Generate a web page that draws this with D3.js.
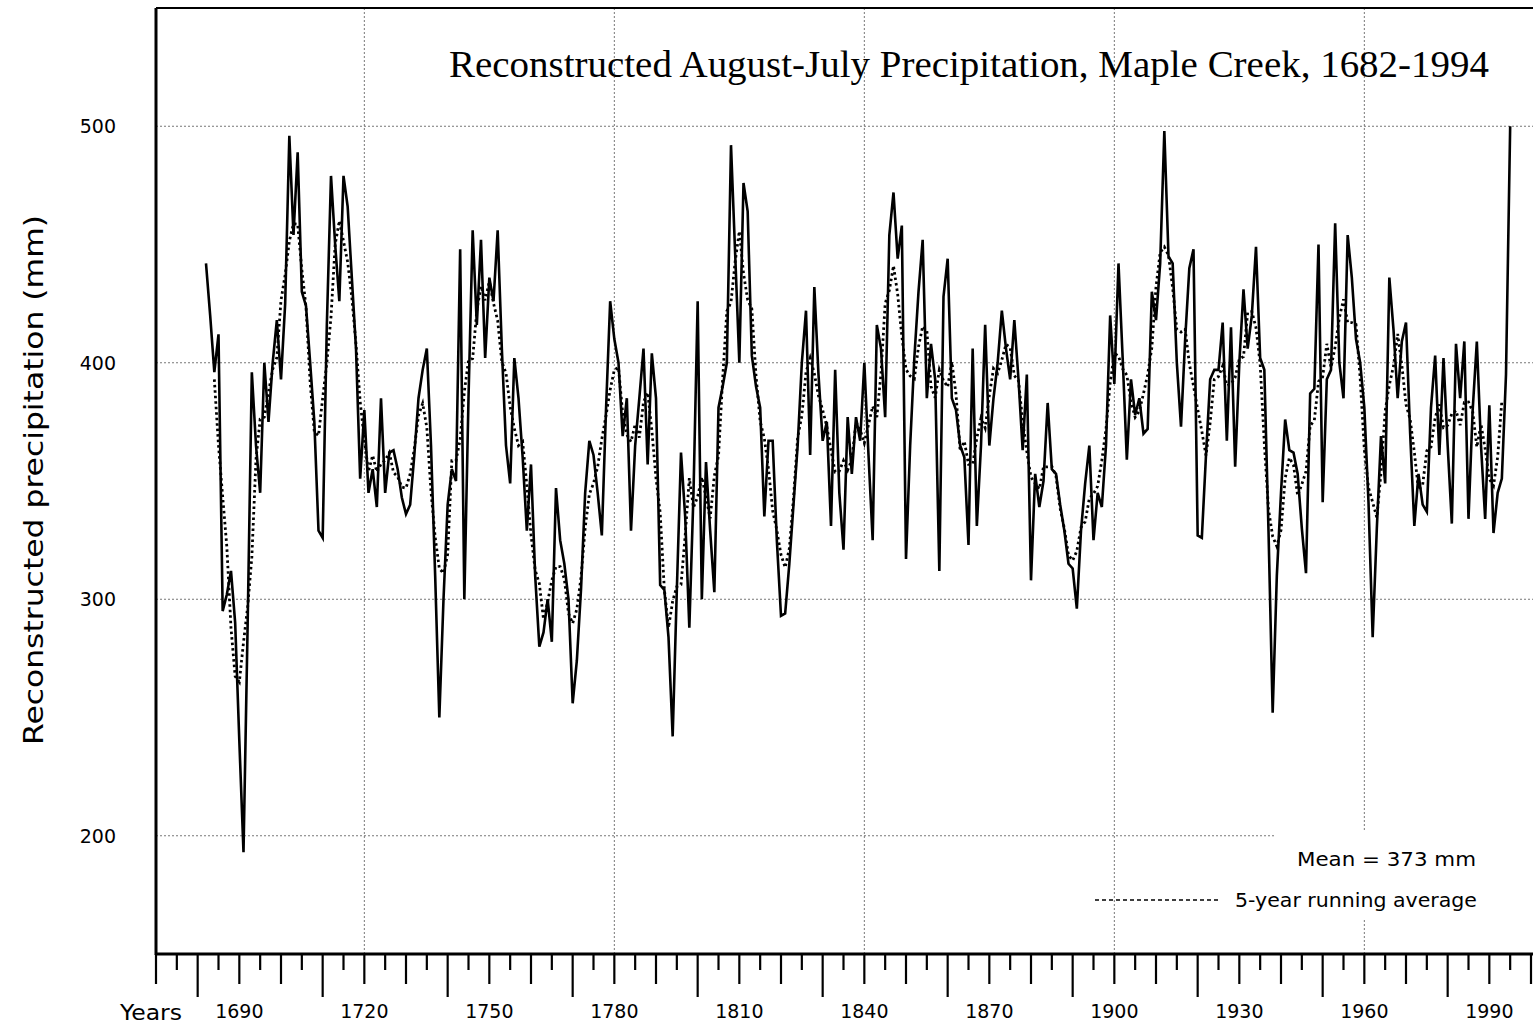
<!DOCTYPE html>
<html><head><meta charset="utf-8">
<script src="https://cdn.jsdelivr.net/npm/d3@7"></script>
<style>body{margin:0;background:#fff;} svg{display:block;}</style>
</head><body>
<svg id="c" width="1533" height="1024"></svg>
<script>
// ---- data ----
const firstYear = 1682;
const precipitation = [
 442,420,396,412,295,302,312,290,240,193, // 1682-1691
 290,396,365,345,400,375,400,418,393,425, // 1692-1701
 496,454,489,430,424,400,375,329,326,416, // 1702-1711
 479,450,426,479,466,436,406,351,380,345, // 1712-1721
 355,339,385,345,362,363,355,343,336,340, // 1722-1731
 361,385,397,406,365,310,250,300,340,355, // 1732-1741
 350,448,300,385,456,416,452,402,436,426, // 1742-1751
 456,406,365,349,402,385,360,329,357,310, // 1752-1761
 280,286,300,282,347,325,315,300,256,274, // 1762-1771
 304,345,367,361,345,327,380,426,410,400, // 1772-1781
 369,385,329,365,385,406,357,404,385,306, // 1782-1791
 304,284,242,304,362,335,288,345,426,300, // 1792-1801
 358,329,303,381,390,400,492,446,400,476, // 1802-1811
 464,403,390,381,335,367,367,325,293,294, // 1812-1821
 315,340,365,400,422,361,432,395,367,375, // 1822-1831
 331,397,345,321,377,353,377,367,400,361, // 1832-1841
 325,416,406,377,454,472,444,458,317,365, // 1842-1851
 402,430,452,385,408,393,312,428,444,385, // 1852-1861
 380,365,360,323,406,331,365,416,365,385, // 1862-1871
 400,422,406,393,418,393,363,395,308,353, // 1872-1881
 339,350,383,355,353,340,329,315,313,296, // 1882-1891
 329,349,365,325,345,339,365,420,391,442, // 1892-1901
 402,359,393,378,385,370,372,430,418,442, // 1902-1911
 498,445,442,400,373,410,440,448,327,326, // 1912-1921
 361,393,397,397,417,367,415,356,400,431, // 1922-1931
 406,420,449,402,397,329,252,310,345,376, // 1932-1941
 363,362,353,330,311,387,389,450,341,393, // 1942-1951
 397,459,400,385,454,436,410,400,381,341, // 1952-1961
 284,330,369,349,436,414,385,409,417,370, // 1962-1971
 331,353,340,337,381,403,361,402,365,332, // 1972-1981
 408,385,409,334,380,409,365,334,382,328, // 1982-1991
 345,351,395,500                          // 1992-1995
];
const yTicks = [200, 300, 400, 500];
const xLabelYears = [1690, 1720, 1750, 1780, 1810, 1840, 1870, 1900, 1930, 1960, 1990];
const xTickYears = d3.range(1670, 2001, 5);
const xGridYears = [1720, 1780, 1840, 1900, 1960];
const titleText = "Reconstructed August-July Precipitation, Maple Creek, 1682-1994";
const yAxisTitle = "Reconstructed precipitation (mm)";
const meanText = "Mean = 373 mm";
const avgLegendText = "5-year running average";

// ---- build ----
const series = precipitation.map((v, i) => ({year: firstYear + i, value: v}));
const running = [];
for (let i = 2; i < precipitation.length - 2; i++) {
  running.push({year: firstYear + i, value: d3.mean(precipitation.slice(i - 2, i + 3))});
}

const svg = d3.select("#c");
const L = 156, R = 1531, T = 8, B = 954;
const x = d3.scaleLinear().domain([1670, 2000]).range([L, R]);
const y = d3.scaleLinear().domain([150, 550]).range([B, T]);
const sans = "'DejaVu Sans', sans-serif";

// grid
svg.append("g").selectAll("line").data(yTicks).join("line")
  .attr("x1", L).attr("x2", 1533).attr("y1", d => y(d)).attr("y2", d => y(d))
  .attr("stroke", "#777").attr("stroke-width", 1).attr("stroke-dasharray", "2,2");
svg.append("g").selectAll("line").data(xGridYears).join("line")
  .attr("x1", d => x(d)).attr("x2", d => x(d)).attr("y1", T).attr("y2", B)
  .attr("stroke", "#777").attr("stroke-width", 1).attr("stroke-dasharray", "2,2");

// legend background (hides grid behind legend text)
svg.append("rect").attr("x", 1276).attr("y", 830).attr("width", 257).attr("height", 90).attr("fill", "#fff");

// frame
svg.append("line").attr("x1", L).attr("x2", 1533).attr("y1", T).attr("y2", T)
  .attr("stroke", "#000").attr("stroke-width", 2);
svg.append("line").attr("x1", L).attr("x2", L).attr("y1", T).attr("y2", B + 1)
  .attr("stroke", "#000").attr("stroke-width", 3);
svg.append("line").attr("x1", L - 1).attr("x2", 1533).attr("y1", B).attr("y2", B)
  .attr("stroke", "#000").attr("stroke-width", 3);

// x ticks
svg.append("g").selectAll("line").data(xTickYears).join("line")
  .attr("x1", d => x(d)).attr("x2", d => x(d)).attr("y1", B)
  .attr("y2", d => B + (d % 30 === 0 ? 43 : d % 10 === 0 ? 30 : 16))
  .attr("stroke", "#000").attr("stroke-width", 2.2);
svg.append("g").selectAll("text").data(xLabelYears).join("text")
  .attr("x", d => x(d)).attr("y", 1018).attr("text-anchor", "middle")
  .attr("font-family", sans).attr("font-size", 19).text(d => d);
svg.append("text").attr("x", 120).attr("y", 1020).attr("font-family", sans)
  .attr("font-size", 21).attr("textLength", 62).attr("lengthAdjust", "spacingAndGlyphs").text("Years");

// y labels
svg.append("g").selectAll("text").data(yTicks).join("text")
  .attr("x", 116).attr("y", d => y(d) + 7).attr("text-anchor", "end")
  .attr("font-family", sans).attr("font-size", 19).text(d => d);
svg.append("text").attr("transform", `translate(43,${(215 + 745) / 2}) rotate(-90)`)
  .attr("text-anchor", "middle").attr("font-family", sans).attr("font-size", 27)
  .attr("textLength", 530).attr("lengthAdjust", "spacingAndGlyphs")
  .text(yAxisTitle);

// lines
svg.append("path").datum(running)
  .attr("d", d3.line().x(d => x(d.year)).y(d => y(d.value)))
  .attr("fill", "none").attr("stroke", "#000").attr("stroke-width", 2.8)
  .attr("stroke-dasharray", "2.5,3");
svg.append("path").datum(series)
  .attr("d", d3.line().x(d => x(d.year)).y(d => y(d.value)))
  .attr("fill", "none").attr("stroke", "#000").attr("stroke-width", 2.6)
  .attr("stroke-linejoin", "miter");

// title
svg.append("text").attr("x", 1489).attr("y", 77).attr("text-anchor", "end")
  .attr("font-family", "'Liberation Serif', 'Times New Roman', serif").attr("font-size", 38)
  .attr("textLength", 1040).attr("lengthAdjust", "spacingAndGlyphs")
  .text(titleText);

// legend
svg.append("text").attr("x", 1476).attr("y", 866).attr("text-anchor", "end")
  .attr("font-family", sans).attr("font-size", 20)
  .attr("textLength", 179).attr("lengthAdjust", "spacingAndGlyphs").text(meanText);
svg.append("line").attr("x1", 1095).attr("x2", 1221).attr("y1", 900).attr("y2", 900)
  .attr("stroke", "#000").attr("stroke-width", 1.5).attr("stroke-dasharray", "4,3");
svg.append("text").attr("x", 1477).attr("y", 907).attr("text-anchor", "end")
  .attr("font-family", sans).attr("font-size", 20)
  .attr("textLength", 242).attr("lengthAdjust", "spacingAndGlyphs").text(avgLegendText);
</script>
</body></html>
